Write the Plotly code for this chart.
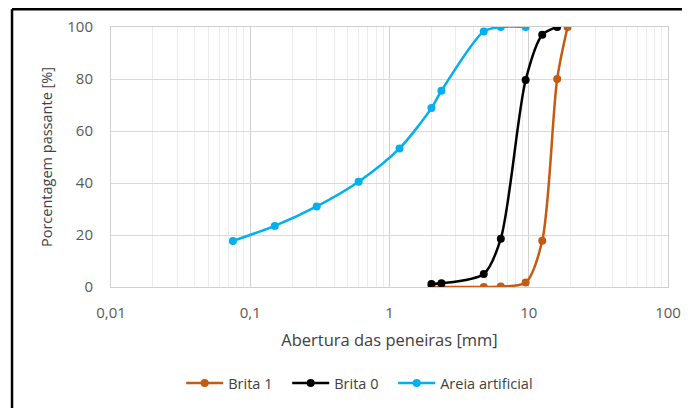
import plotly.graph_objects as go

# Data
brita1_x = [2.0, 2.36, 4.75, 6.3, 9.5, 12.5, 16, 19]
brita1_y = [0, 0, 0, 0.2, 1.7, 17.8, 80, 100]

brita0_x = [2.0, 2.36, 4.75, 6.3, 9.5, 12.5, 16]
brita0_y = [1.2, 1.4, 5.0, 18.6, 79.6, 97.0, 100]

areia_x = [0.075, 0.15, 0.3, 0.6, 1.18, 2.0, 2.36, 4.75, 6.3, 9.5]
areia_y = [17.7, 23.5, 31.0, 40.5, 53.3, 68.8, 75.5, 98.3, 100, 100]

x_tickvals = [0.01, 0.1, 1, 10, 100]
x_ticktext = ["0,01", "0,1", "1", "10", "100"]
y_tickvals = [0, 20, 40, 60, 80, 100]

series = [
    ("Brita 1", brita1_x, brita1_y, "#C55A11"),
    ("Brita 0", brita0_x, brita0_y, "#000000"),
    ("Areia artificial", areia_x, areia_y, "#00B0F0"),
]

minor_vals = []
for dec in [0.01, 0.1, 1, 10]:
    for k in range(2, 10):
        minor_vals.append(dec * k)

fig = go.Figure()
for name, xs, ys, col in series:
    fig.add_trace(go.Scatter(
        x=xs, y=ys, name=name, mode="lines+markers",
        line=dict(color=col, width=2.5, shape="spline", smoothing=0.8),
        marker=dict(color=col, size=8),
    ))
# empty, invisible legend entry that only widens the legend box so the last label is not clipped
fig.add_trace(go.Scatter(x=[None], y=[None], name=" ", mode="lines",
                         line=dict(color="rgba(0,0,0,0)"), hoverinfo="skip"))

font_fam = "Open Sans, Liberation Sans, sans-serif"
# page body has an 8px margin, so the figure is 8px smaller than the window
fig.update_layout(
    width=682, height=400,
    margin=dict(l=103, r=22, t=19, b=121),
    paper_bgcolor="white", plot_bgcolor="white",
    font=dict(family=font_fam, size=15, color="#595959"),
    showlegend=True,
    legend=dict(orientation="h", x=0.126, xanchor="left", xref="paper",
                y=0.0625, yanchor="middle", yref="container",
                font=dict(size=14.5, color="#404040"), entrywidth=54, itemwidth=37,
                tracegroupgap=0),
    xaxis=dict(
        type="log", range=[-2, 2], automargin=False,
        tickmode="array", tickvals=x_tickvals, ticktext=x_ticktext,
        showgrid=True, gridcolor="#d0d0d0", gridwidth=1,
        minor=dict(tickmode="array", tickvals=minor_vals, showgrid=True,
                   gridcolor="#ececec", gridwidth=1, ticklen=0),
        showline=True, linecolor="#d0d0d0", mirror=True, zeroline=False,
        ticks="", ticklabelstandoff=12,
        title=dict(text="Abertura das peneiras [mm]", standoff=13,
                   font=dict(size=16.5, color="#404040")),
    ),
    yaxis=dict(
        range=[0, 100], tickmode="array", tickvals=y_tickvals, automargin=False,
        showgrid=True, gridcolor="#d9d9d9", gridwidth=1,
        showline=True, linecolor="#d0d0d0", mirror=True, zeroline=False,
        ticks="", ticklabelstandoff=14,
        title=dict(text="Porcentagem passante [%]", standoff=11,
                   font=dict(size=14.5, color="#404040")),
    ),
    shapes=[
        dict(type="line", xref="paper", yref="paper", x0=-0.1777, x1=1.05, y0=1.068, y1=1.068,
             line=dict(color="black", width=2.5)),
        dict(type="line", xref="paper", yref="paper", x0=-0.1777, x1=-0.1777, y0=1.068, y1=-0.48,
             line=dict(color="black", width=2.5)),
    ],
)

fig.write_html("out.html")
